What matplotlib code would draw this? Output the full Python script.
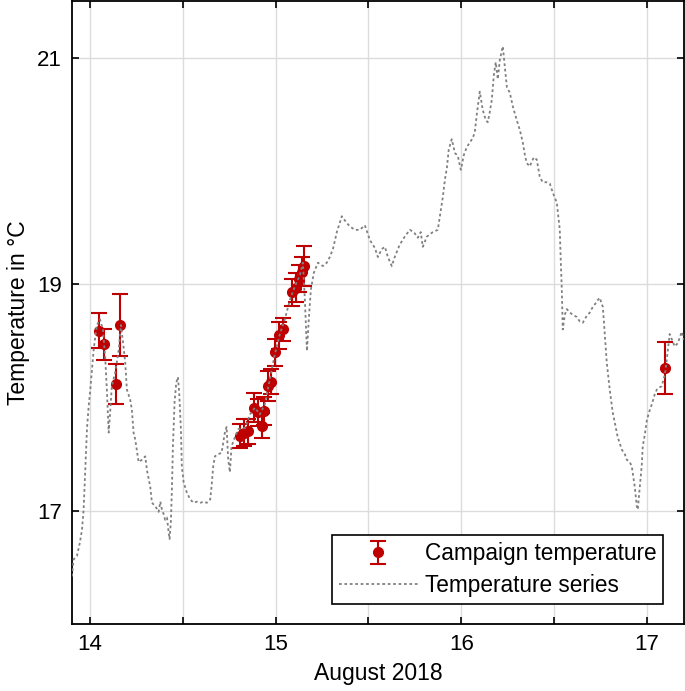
import matplotlib
matplotlib.use('Agg')
import matplotlib.pyplot as plt

plt.rcParams['font.family'] = ['Liberation Sans', 'DejaVu Sans']

# temperature series (day of August 2018, degC)
series_day = [13.903, 13.912, 13.930, 13.946, 13.957, 13.966, 13.975, 13.984, 13.993, 14.002,
              14.011, 14.020, 14.029, 14.038, 14.054, 14.070, 14.082, 14.092, 14.101, 14.109,
              14.118, 14.136, 14.155, 14.167, 14.181, 14.190, 14.199, 14.217, 14.226, 14.235,
              14.244, 14.262, 14.280, 14.298, 14.307, 14.325, 14.334, 14.352, 14.370, 14.379,
              14.388, 14.397, 14.405, 14.415, 14.424, 14.429, 14.436, 14.442, 14.447, 14.456,
              14.465, 14.474, 14.481, 14.490, 14.495, 14.505, 14.522, 14.540, 14.558, 14.576,
              14.594, 14.612, 14.630, 14.648, 14.655, 14.664, 14.673, 14.691, 14.709, 14.727,
              14.736, 14.745, 14.754, 14.763, 14.781, 14.799, 14.835, 14.862, 14.889, 14.915,
              14.942, 14.969, 14.996, 15.023, 15.050, 15.077, 15.104, 15.131, 15.147, 15.158,
              15.169, 15.179, 15.190, 15.206, 15.228, 15.255, 15.276, 15.292, 15.309, 15.330,
              15.357, 15.379, 15.400, 15.427, 15.454, 15.481, 15.508, 15.535, 15.551, 15.572,
              15.589, 15.605, 15.626, 15.642, 15.669, 15.696, 15.723, 15.745, 15.766, 15.782,
              15.793, 15.815, 15.847, 15.874, 15.885, 15.901, 15.912, 15.923, 15.933, 15.949,
              15.966, 15.982, 15.998, 16.014, 16.030, 16.046, 16.062, 16.073, 16.084, 16.100,
              16.116, 16.132, 16.143, 16.154, 16.165, 16.176, 16.186, 16.197, 16.208, 16.224,
              16.235, 16.246, 16.262, 16.278, 16.299, 16.316, 16.332, 16.343, 16.353, 16.369,
              16.391, 16.407, 16.423, 16.439, 16.461, 16.477, 16.493, 16.515, 16.531, 16.536,
              16.542, 16.547, 16.558, 16.569, 16.585, 16.601, 16.623, 16.639, 16.655, 16.676,
              16.693, 16.709, 16.719, 16.736, 16.746, 16.763, 16.773, 16.784, 16.800, 16.816,
              16.833, 16.843, 16.865, 16.881, 16.892, 16.908, 16.919, 16.935, 16.946, 16.951,
              16.962, 16.973, 16.978, 16.989, 17.000, 17.016, 17.027, 17.043, 17.054, 17.070,
              17.080, 17.097, 17.107, 17.123, 17.140, 17.150, 17.167, 17.188, 17.199]
series_temp = [16.42, 16.57, 16.60, 16.72, 16.83, 17.01, 17.36, 17.72, 17.92, 18.07,
               18.25, 18.42, 18.54, 18.64, 18.69, 18.60, 18.36, 18.04, 17.69, 17.87,
               18.10, 18.22, 18.42, 18.64, 18.45, 18.31, 18.07, 17.98, 17.89, 17.69,
               17.63, 17.43, 17.45, 17.48, 17.36, 17.21, 17.07, 17.04, 16.99, 17.08,
               17.01, 16.97, 16.92, 16.94, 16.81, 16.75, 16.90, 17.21, 17.57, 17.96,
               18.13, 18.18, 18.04, 17.72, 17.39, 17.25, 17.16, 17.10, 17.07, 17.08,
               17.07, 17.08, 17.07, 17.10, 17.21, 17.39, 17.48, 17.50, 17.51, 17.69,
               17.74, 17.45, 17.34, 17.57, 17.65, 17.72, 17.73, 17.85, 17.91, 17.85,
               17.94, 18.16, 18.38, 18.56, 18.69, 18.86, 18.98, 19.08, 19.19, 18.86,
               18.41, 18.69, 18.95, 19.10, 19.19, 19.16, 19.19, 19.24, 19.31, 19.46,
               19.60, 19.55, 19.51, 19.48, 19.48, 19.52, 19.39, 19.32, 19.24, 19.31,
               19.33, 19.24, 19.16, 19.24, 19.35, 19.42, 19.48, 19.46, 19.41, 19.46,
               19.33, 19.42, 19.46, 19.48, 19.60, 19.77, 19.92, 20.03, 20.19, 20.28,
               20.16, 20.13, 20.01, 20.14, 20.21, 20.25, 20.29, 20.34, 20.50, 20.70,
               20.54, 20.45, 20.43, 20.52, 20.63, 20.85, 20.96, 20.81, 20.98, 21.10,
               20.92, 20.74, 20.69, 20.57, 20.45, 20.36, 20.25, 20.14, 20.07, 20.04,
               20.12, 20.10, 19.95, 19.90, 19.90, 19.89, 19.81, 19.72, 19.48, 19.22,
               18.95, 18.60, 18.73, 18.78, 18.75, 18.73, 18.71, 18.67, 18.66, 18.72,
               18.75, 18.80, 18.82, 18.86, 18.88, 18.80, 18.57, 18.31, 18.07, 17.87,
               17.73, 17.65, 17.54, 17.50, 17.45, 17.43, 17.39, 17.21, 17.04, 17.01,
               17.21, 17.41, 17.57, 17.67, 17.80, 17.89, 17.94, 18.03, 18.07, 18.09,
               18.10, 18.20, 18.33, 18.56, 18.49, 18.45, 18.48, 18.58, 18.51]

# campaign measurements with uncertainty
camp_day = [14.050, 14.077, 14.140, 14.162,
            14.808, 14.829, 14.851, 14.883, 14.905, 14.926, 14.937, 14.959, 14.975,
            14.996, 15.018, 15.039, 15.088, 15.109, 15.125, 15.142, 15.152,
            17.100]
camp_temp = [18.59, 18.47, 18.12, 18.64,
             17.66, 17.69, 17.70, 17.91, 17.87, 17.75, 17.88, 18.10, 18.14,
             18.40, 18.55, 18.60, 18.93, 18.97, 19.05, 19.11, 19.16,
             18.26]
camp_err = [0.155, 0.135, 0.175, 0.27,
            0.11, 0.12, 0.11, 0.13, 0.12, 0.11, 0.12, 0.13, 0.11,
            0.12, 0.12, 0.10, 0.12, 0.13, 0.12, 0.13, 0.175,
            0.23]

red = '#BF0000'

fig = plt.figure(figsize=(6.85, 6.91), dpi=100)
ax = fig.add_axes([0.105, 0.097, 0.8935, 0.9015])

eb = ax.errorbar(camp_day, camp_temp, yerr=camp_err, fmt='o', color=red, ecolor=red,
                 markersize=7, elinewidth=1.5, capsize=6, capthick=1.5,
                 label='Campaign temperature', zorder=3)
ln, = ax.plot(series_day, series_temp, color='#808080', linestyle=(0, (1.5, 1.5)),
              linewidth=1.3, label='Temperature series', zorder=4)

ax.set_xlim(13.903, 17.2)
ax.set_ylim(16.0, 21.5)
xt = [14, 14.5, 15, 15.5, 16, 16.5, 17]
ax.set_xticks(xt)
ax.set_xticklabels(['14', '', '15', '', '16', '', '17'])
ax.set_yticks([17, 19, 21])
ax.tick_params(direction='in', top=True, right=True, length=5, width=1.2,
               labelsize=16, pad=7)
ax.grid(True, color='#dcdcdc', linewidth=1)
ax.set_axisbelow(True)
for s in ax.spines.values():
    s.set_linewidth(1.3)

ax.set_xlabel('August 2018', fontsize=16.5, labelpad=5)
ax.set_ylabel('Temperature in °C', fontsize=16.5, labelpad=5)

leg = ax.legend([eb, ln], ['Campaign temperature', 'Temperature series'],
                loc='lower right', bbox_to_anchor=(0.966, 0.032), borderaxespad=0,
                fontsize=16.3, frameon=True, fancybox=False, edgecolor='black',
                handlelength=3.5, handletextpad=0.3, labelspacing=0.4, borderpad=0.3)
leg.get_frame().set_linewidth(1.2)
leg.get_frame().set_alpha(1)

fig.savefig('out.png', dpi=100)
